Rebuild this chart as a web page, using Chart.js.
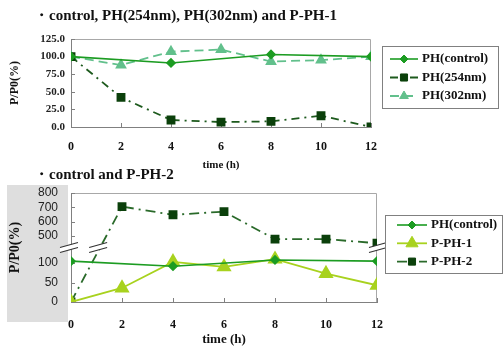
<!DOCTYPE html>
<html>
<head>
<meta charset="utf-8">
<script src="https://cdn.jsdelivr.net/npm/chart.js@4.4.1/dist/chart.umd.min.js"></script>
<style>
  html, body { margin: 0; padding: 0; background: #fff; }
  canvas { position: absolute; left: 0; }
  #top { top: 0; }
  #bottom { top: 160px; }
</style>
</head>
<body>
<canvas id="top" width="503" height="172"></canvas>
<canvas id="bottom" width="503" height="187"></canvas>
<script>
'use strict';

// ---- data ----
var TIMES = [0, 2, 4, 6, 8, 10, 12];
var CONTROL_TIMES = [0, 4, 8, 12];

var topTitle = '・control, PH(254nm), PH(302nm) and P-PH-1';
var topControl = [100, 91, 103, 100];
var top254 = [100, 42, 10, 7, 8, 16, 0];
var top302 = [100, 88, 107, 110, 93, 95, 100];

var bottomTitle = '・control and P-PH-2';
var bottomControl = [105, 92, 108, 105];
var bottomPPH1 = [0, 36, 103, 90, 110, 73, 43];
var bottomPPH2 = [0, 705, 648, 670, 478, 478, 450];
var bottomTicks = [0, 50, 100, 500, 600, 700, 800];

// broken y axis: 0..140 uses the lower half, 420..800 the upper half
var BREAK_LOW = 140, BREAK_HIGH = 420, BREAK_FRAC = 0.5;

var SERIF = '"Liberation Serif", "Times New Roman", serif';
var SANS = '"Liberation Sans", Arial, sans-serif';

Chart.defaults.font.family = SERIF;
Chart.defaults.color = '#111';

class BrokenLinearScale extends Chart.LinearScale {
  getPixelForValue(value) {
    var dec;
    if (value <= BREAK_LOW) {
      dec = (value - this.min) / (BREAK_LOW - this.min) * BREAK_FRAC;
    } else if (value >= BREAK_HIGH) {
      dec = BREAK_FRAC + (value - BREAK_HIGH) / (this.max - BREAK_HIGH) * (1 - BREAK_FRAC);
    } else {
      dec = BREAK_FRAC;
    }
    return this.getPixelForDecimal(dec);
  }
  getValueForPixel(pixel) {
    var dec = this.getDecimalForPixel(pixel);
    if (dec <= BREAK_FRAC) {
      return this.min + dec / BREAK_FRAC * (BREAK_LOW - this.min);
    }
    return BREAK_HIGH + (dec - BREAK_FRAC) / (1 - BREAK_FRAC) * (this.max - BREAK_HIGH);
  }
}
BrokenLinearScale.id = 'brokenLinear';
BrokenLinearScale.defaults = Chart.LinearScale.defaults;
Chart.register(BrokenLinearScale);

function series(label, times, values, style) {
  var ds = {
    label: label,
    data: times.map(function(t, i) { return {x: t, y: values[i]}; })
  };
  return Object.assign(ds, style);
}

// title text at the top left
var caption = {
  id: 'caption',
  afterDraw: function(chart, args, opts) {
    var ctx = chart.ctx;
    ctx.save();
    ctx.font = 'bold ' + opts.size + 'px ' + SERIF;
    ctx.fillStyle = '#111';
    ctx.textBaseline = 'middle';
    ctx.fillText(opts.text, opts.x, opts.y);
    ctx.restore();
  }
};

// grey panel, plot frame and inner tick marks
var frame = {
  id: 'frame',
  beforeDraw: function(chart, args, opts) {
    if (!opts.panel) return;
    var a = chart.chartArea, ctx = chart.ctx;
    ctx.save();
    ctx.fillStyle = '#dedede';
    ctx.fillRect(7, a.top - 8, a.left - 10, a.bottom - a.top + 28);
    ctx.restore();
  },
  beforeDatasetsDraw: function(chart) {
    var a = chart.chartArea, ctx = chart.ctx;
    var xs = chart.scales.x, ys = chart.scales.y;
    ctx.save();
    ctx.strokeStyle = '#a8a8a8';
    ctx.lineWidth = 1;
    ctx.beginPath();
    ctx.moveTo(a.left, a.top + 0.5);
    ctx.lineTo(a.right - 0.5, a.top + 0.5);
    ctx.lineTo(a.right - 0.5, a.bottom);
    ctx.stroke();
    ctx.strokeStyle = '#808080';
    ctx.beginPath();
    xs.ticks.forEach(function(t) {
      var px = Math.round(xs.getPixelForValue(t.value)) + 0.5;
      ctx.moveTo(px, a.bottom);
      ctx.lineTo(px, a.bottom - 4);
    });
    ys.ticks.forEach(function(t) {
      var py = Math.round(ys.getPixelForValue(t.value)) + 0.5;
      ctx.moveTo(a.left, py);
      ctx.lineTo(a.left + 4, py);
    });
    ctx.stroke();
    ctx.restore();
  }
};

// boxed legend with line + marker samples
var boxLegend = {
  id: 'boxLegend',
  afterDraw: function(chart, args, opts) {
    var a = chart.chartArea, ctx = chart.ctx;
    var left = a.right + opts.dx, top = a.top + opts.dy;
    ctx.save();
    ctx.fillStyle = '#fff';
    ctx.fillRect(left, top, opts.w, opts.h);
    ctx.strokeStyle = '#808080';
    ctx.lineWidth = 1;
    ctx.strokeRect(Math.round(left) + 0.5, Math.round(top) + 0.5, opts.w, opts.h);
    ctx.font = 'bold 13px ' + SERIF;
    ctx.textBaseline = 'middle';
    chart.data.datasets.forEach(function(ds, i) {
      var y = top + opts.first + i * opts.gap;
      var x0 = left + opts.lineX, x1 = x0 + opts.lineW;
      ctx.strokeStyle = ds.borderColor;
      ctx.lineWidth = ds.borderWidth;
      ctx.setLineDash(ds.borderDash || []);
      ctx.beginPath();
      ctx.moveTo(x0, y);
      ctx.lineTo(x1, y);
      ctx.stroke();
      ctx.setLineDash([]);
      ctx.fillStyle = ds.pointBackgroundColor;
      ctx.strokeStyle = ds.pointBorderColor;
      ctx.lineWidth = 1;
      Chart.helpers.drawPoint(ctx, {
        pointStyle: ds.pointStyle, radius: ds.pointRadius, rotation: 0, borderWidth: 1
      }, (x0 + x1) / 2, y);
      ctx.fillStyle = '#111';
      ctx.fillText(ds.label, x1 + 4, y);
    });
    ctx.restore();
  }
};

// "//" marks where the y axis is broken
var breakMarks = {
  id: 'breakMarks',
  afterDatasetsDraw: function(chart) {
    var a = chart.chartArea, ctx = chart.ctx;
    var yb = chart.scales.y.getPixelForDecimal(BREAK_FRAC);
    var xs = [a.left - 2, a.right + 1];
    chart.data.datasets.forEach(function(ds, i) {
      var pts = chart.getDatasetMeta(i).data;
      for (var k = 0; k < pts.length - 1; k++) {
        var p = pts[k], q = pts[k + 1];
        if ((p.y - yb) * (q.y - yb) < 0) {
          xs.push(p.x + (q.x - p.x) * (yb - p.y) / (q.y - p.y) - 2);
        }
      }
    });
    ctx.save();
    xs.forEach(function(cx) {
      ctx.fillStyle = '#fff';
      ctx.beginPath();
      ctx.moveTo(cx - 9, yb);
      ctx.lineTo(cx + 9, yb - 5);
      ctx.lineTo(cx + 9, yb);
      ctx.lineTo(cx - 9, yb + 5);
      ctx.closePath();
      ctx.fill();
      ctx.strokeStyle = '#333';
      ctx.lineWidth = 1.2;
      ctx.beginPath();
      ctx.moveTo(cx - 9, yb);
      ctx.lineTo(cx + 9, yb - 5);
      ctx.moveTo(cx - 9, yb + 5);
      ctx.lineTo(cx + 9, yb);
      ctx.stroke();
    });
    ctx.restore();
  }
};

var boldTick = function(size) { return {family: SERIF, weight: 'bold', size: size}; };

// ---- top chart ----
new Chart(document.getElementById('top').getContext('2d'), {
  type: 'line',
  data: {
    datasets: [
      series('PH(control)', CONTROL_TIMES, topControl, {
        borderColor: '#1c9c22', borderWidth: 1.6,
        pointStyle: 'rectRot', pointRadius: 4,
        pointBackgroundColor: '#1c9c22', pointBorderColor: '#1c9c22'
      }),
      series('PH(254nm)', TIMES, top254, {
        borderColor: '#1d5a1d', borderWidth: 1.8, borderDash: [8, 5, 2, 5],
        pointStyle: 'rect', pointRadius: 5,
        pointBackgroundColor: '#0b400b', pointBorderColor: '#0b400b'
      }),
      series('PH(302nm)', TIMES, top302, {
        borderColor: '#62c08c', borderWidth: 1.8, borderDash: [9, 5],
        pointStyle: 'triangle', pointRadius: 5,
        pointBackgroundColor: '#62c08c', pointBorderColor: '#62c08c'
      })
    ]
  },
  options: {
    responsive: false,
    animation: false,
    devicePixelRatio: 1,
    layout: {padding: {top: 39, right: 132, left: 0, bottom: 0}},
    plugins: {
      legend: {display: false},
      tooltip: {enabled: false},
      caption: {text: topTitle, x: 34, y: 16, size: 15},
      frame: {panel: false},
      boxLegend: {dx: 11, dy: 7, w: 116, h: 62, first: 13, gap: 18.5, lineX: 8, lineW: 28}
    },
    scales: {
      x: {
        type: 'linear', min: 0, max: 12,
        ticks: {stepSize: 2, padding: 13, font: boldTick(12), color: '#111'},
        grid: {display: false, drawTicks: false},
        border: {color: '#808080'},
        title: {display: true, text: 'time (h)', font: boldTick(11), color: '#111', padding: {top: 0, bottom: 0}},
        afterFit: function(s) { s.height = 45; }
      },
      y: {
        min: 0, max: 125,
        ticks: {stepSize: 25, padding: 6, font: boldTick(11), color: '#222',
          callback: function(v) { return v.toFixed(1); }},
        grid: {display: false, drawTicks: false},
        border: {color: '#808080'},
        title: {display: true, text: 'P/P0(%)', font: boldTick(12), color: '#111', padding: {top: 8, bottom: 0}},
        afterFit: function(s) { s.width = 71; }
      }
    }
  },
  plugins: [frame, caption, boxLegend]
});

// ---- bottom chart ----
new Chart(document.getElementById('bottom').getContext('2d'), {
  type: 'line',
  data: {
    datasets: [
      series('PH(control)', CONTROL_TIMES, bottomControl, {
        borderColor: '#1c9c22', borderWidth: 1.6,
        pointStyle: 'rectRot', pointRadius: 4,
        pointBackgroundColor: '#1c9c22', pointBorderColor: '#1c9c22'
      }),
      series('P-PH-1', TIMES, bottomPPH1, {
        borderColor: '#a8d21e', borderWidth: 1.8,
        pointStyle: 'triangle', pointRadius: 7,
        pointBackgroundColor: '#a8d21e', pointBorderColor: '#a8d21e'
      }),
      series('P-PH-2', TIMES, bottomPPH2, {
        borderColor: '#2a6a2a', borderWidth: 1.8, borderDash: [10, 5, 2, 5],
        pointStyle: 'rect', pointRadius: 5,
        pointBackgroundColor: '#0b400b', pointBorderColor: '#0b400b'
      })
    ]
  },
  options: {
    responsive: false,
    animation: false,
    devicePixelRatio: 1,
    layout: {padding: {top: 33, right: 126, left: 0, bottom: 0}},
    plugins: {
      legend: {display: false},
      tooltip: {enabled: false},
      caption: {text: bottomTitle, x: 34, y: 15, size: 15},
      frame: {panel: true},
      boxLegend: {dx: 8, dy: 22, w: 117, h: 58, first: 10, gap: 18.3, lineX: 12, lineW: 30}
    },
    scales: {
      x: {
        type: 'linear', min: 0, max: 12,
        ticks: {stepSize: 2, padding: 16, font: boldTick(12), color: '#111'},
        grid: {display: false, drawTicks: false},
        border: {color: '#808080'},
        title: {display: true, text: 'time (h)', font: boldTick(13), color: '#111', padding: {top: 0, bottom: 0}},
        afterFit: function(s) { s.height = 45; }
      },
      y: {
        type: 'brokenLinear', min: 0, max: 800,
        afterBuildTicks: function(s) {
          s.ticks = bottomTicks.map(function(v) { return {value: v}; });
        },
        ticks: {padding: 13, font: {family: SANS, size: 12}, color: '#222'},
        grid: {display: false, drawTicks: false},
        border: {color: '#808080'},
        title: {display: true, text: 'P/P0(%)', font: boldTick(14), color: '#111', padding: {top: 7, bottom: 0}},
        afterFit: function(s) { s.width = 71; }
      }
    }
  },
  plugins: [frame, breakMarks, caption, boxLegend]
});
</script>
</body>
</html>
